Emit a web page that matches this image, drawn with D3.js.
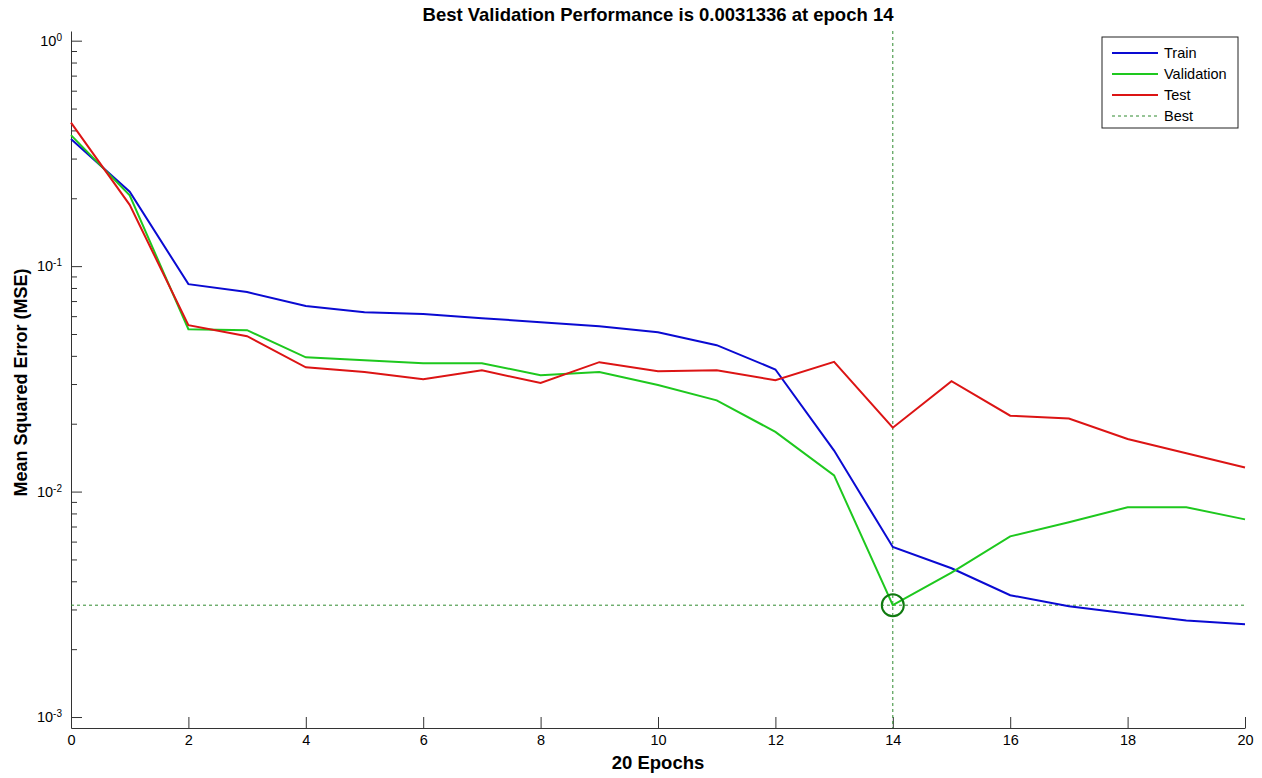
<!DOCTYPE html>
<html>
<head>
<meta charset="utf-8">
<script src="https://cdn.jsdelivr.net/npm/d3@7"></script>
<style>
  body { margin: 0; background: #fff; }
  text { font-family: "Liberation Sans", Arial, sans-serif; fill: #000; }
  .axis path, .axis line { stroke: #333; }
</style>
</head>
<body>
<div id="chart"></div>
<script>
// data
var epochs = d3.range(0, 21);
var train = [0.366, 0.214, 0.0832, 0.0767, 0.0665, 0.0625, 0.0613, 0.0588, 0.0564, 0.0541,
             0.0509, 0.0446, 0.0348, 0.0152, 0.00568, 0.00457, 0.00347, 0.00310, 0.00288, 0.00268, 0.00258];
var validation = [0.381, 0.206, 0.0525, 0.0520, 0.0394, 0.0382, 0.0371, 0.0371, 0.0328, 0.0339,
                  0.0297, 0.0254, 0.0184, 0.0118, 0.0031336, 0.00437, 0.00633, 0.00731, 0.00852, 0.00852, 0.00753];
var test = [0.433, 0.187, 0.0547, 0.0489, 0.0356, 0.0339, 0.0315, 0.0345, 0.0303, 0.0375,
            0.0342, 0.0345, 0.0312, 0.0376, 0.0192, 0.0309, 0.0217, 0.0211, 0.0171, 0.0148, 0.0128];
var bestEpoch = 14;
var bestPerf = 0.0031336;
var xTicks = [0, 2, 4, 6, 8, 10, 12, 14, 16, 18, 20];
var yMajor = [1e-3, 1e-2, 1e-1, 1];
var seriesNames = ["Train", "Validation", "Test", "Best"];

var width = 1262;
var height = 778;
var margin = {top: 31, right: 17, bottom: 50, left: 71};

var svg = d3.select("#chart")
    .append("svg")
    .attr("width", width)
    .attr("height", height);

var xScale = d3.scaleLinear()
    .domain([0, 20])
    .range([margin.left, width - margin.right]);

var yScale = d3.scaleLog()
    .domain([0.000894, 1.104])
    .range([height - margin.bottom, margin.top]);

// minor log ticks
var yMinor = [];
[1e-3, 1e-2, 1e-1].forEach(function(d) {
  for (var k = 2; k <= 9; k++) yMinor.push(d * k);
});

// x axis, ticks pointing inward
var xAxis = d3.axisBottom(xScale)
    .tickValues(xTicks)
    .tickSizeInner(-11)
    .tickSizeOuter(0)
    .tickPadding(7)
    .tickFormat(d3.format("d"));

svg.append("g")
    .attr("class", "axis xAxis")
    .attr("transform", `translate(0, ${height - margin.bottom})`)
    .call(xAxis)
    .selectAll("text")
    .attr("font-size", 14.5)
    .attr("font-family", "Liberation Sans, Arial, sans-serif")
    .attr("fill", "#222");

// y minor ticks
svg.append("g")
    .attr("class", "axis yMinor")
    .attr("transform", `translate(${margin.left}, 0)`)
    .call(d3.axisLeft(yScale).tickValues(yMinor).tickSizeInner(-6).tickSizeOuter(0).tickFormat(""))
    .select(".domain").remove();

// y major ticks
var yAxisG = svg.append("g")
    .attr("class", "axis yAxis")
    .attr("transform", `translate(${margin.left}, 0)`)
    .call(d3.axisLeft(yScale)
        .tickValues(yMajor)
        .tickSizeInner(-11)
        .tickSizeOuter(0)
        .tickPadding(9)
        .tickFormat(function(d) { return Math.round(Math.log10(d)); }));

yAxisG.selectAll("text")
    .attr("font-size", 14.5)
    .attr("font-family", "Liberation Sans, Arial, sans-serif")
    .attr("fill", "#222")
    .each(function() {
      var t = d3.select(this);
      var e = t.text();
      t.text("");
      t.append("tspan").text("10");
      t.append("tspan").attr("dy", "-0.5em").attr("font-size", 10).text(e);
    });

// best lines
var bestColor = "#2f8a2f";
svg.append("line")
    .attr("x1", xScale(0)).attr("x2", xScale(20))
    .attr("y1", yScale(bestPerf)).attr("y2", yScale(bestPerf))
    .attr("stroke", bestColor).attr("stroke-width", 1)
    .attr("stroke-dasharray", "3,3");

svg.append("line")
    .attr("x1", xScale(bestEpoch)).attr("x2", xScale(bestEpoch))
    .attr("y1", yScale.range()[1]).attr("y2", yScale.range()[0])
    .attr("stroke", bestColor).attr("stroke-width", 1)
    .attr("stroke-dasharray", "3,3");

// series lines
var series = [
  {name: "Train", values: train, color: "#0a0ad2"},
  {name: "Validation", values: validation, color: "#1ec81e"},
  {name: "Test", values: test, color: "#dc1414"}
];

var line = d3.line()
    .x(function(d, i) { return xScale(epochs[i]); })
    .y(function(d) { return yScale(d); });

series.forEach(function(s) {
  svg.append("path")
      .datum(s.values)
      .attr("d", line)
      .attr("fill", "none")
      .attr("stroke", s.color)
      .attr("stroke-width", 2);
});

// best circle
svg.append("circle")
    .attr("cx", xScale(bestEpoch))
    .attr("cy", yScale(bestPerf))
    .attr("r", 11)
    .attr("fill", "none")
    .attr("stroke", "#0f7a0f")
    .attr("stroke-width", 2);

// title and axis labels
svg.append("text")
    .attr("x", (xScale(0) + xScale(20)) / 2)
    .attr("y", 21)
    .attr("text-anchor", "middle")
    .attr("font-size", 18.5)
    .attr("font-weight", "bold")
    .text("Best Validation Performance is " + bestPerf + " at epoch " + bestEpoch);

svg.append("text")
    .attr("x", (xScale(0) + xScale(20)) / 2)
    .attr("y", 769)
    .attr("text-anchor", "middle")
    .attr("font-size", 18.5)
    .attr("font-weight", "bold")
    .text(epochs.length - 1 + " Epochs");

svg.append("text")
    .attr("transform", `translate(27, ${(yScale.range()[0] + yScale.range()[1]) / 2 + 3})rotate(-90)`)
    .attr("text-anchor", "middle")
    .attr("font-size", 18)
    .attr("font-weight", "bold")
    .text("Mean Squared Error (MSE)");

// legend
var legend = svg.append("g").attr("transform", "translate(1102, 37)");
legend.append("rect")
    .attr("width", 136).attr("height", 91)
    .attr("fill", "#fff").attr("stroke", "#222").attr("stroke-width", 1);

var legendColors = series.map(function(s) { return s.color; }).concat([bestColor]);
seriesNames.forEach(function(name, i) {
  var yy = 16 + i * 21;
  legend.append("line")
      .attr("x1", 10).attr("x2", 56)
      .attr("y1", yy).attr("y2", yy)
      .attr("stroke", legendColors[i])
      .attr("stroke-width", i < 3 ? 2 : 1)
      .attr("stroke-dasharray", i < 3 ? null : "3,3");
  legend.append("text")
      .attr("x", 62).attr("y", yy + 5)
      .attr("font-size", 14.5)
      .text(name);
});
</script>
</body>
</html>
